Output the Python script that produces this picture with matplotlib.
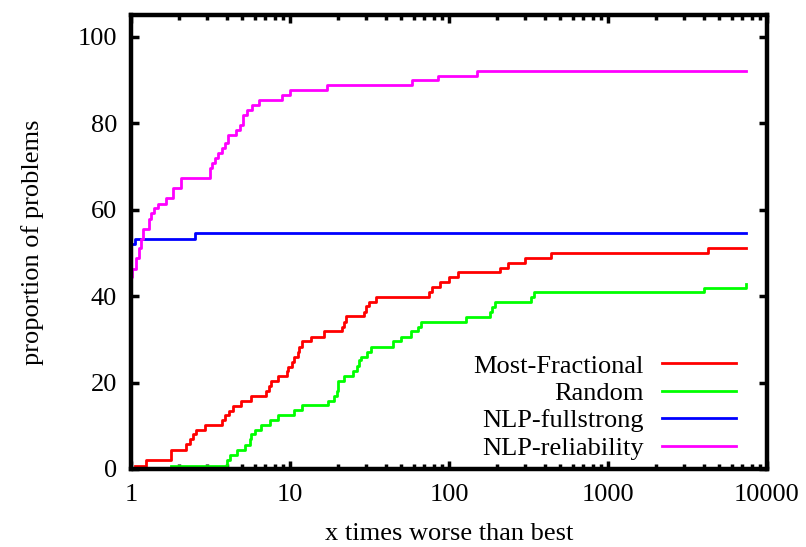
import matplotlib.pyplot as plt
from matplotlib.ticker import LogLocator, FixedLocator, NullFormatter

plt.rcParams['font.family'] = ['Liberation Serif', 'DejaVu Serif']

# Data (x = ratio to best where the profile steps up, y = % of problems)
x_end = 7400

mf_x = [1.064, 1.248, 1.776, 2.226, 2.337, 2.452, 2.572, 2.904, 3.729, 3.878,
        4.109, 4.372, 4.930, 5.697, 7.077, 7.328, 7.608, 8.383, 9.590, 9.786,
        10.26, 10.67, 11.19, 11.47, 11.86, 13.57, 16.47, 21.25, 21.78, 22.51,
        29.38, 30.06, 31.58, 34.74, 75.2, 78.1, 88.2, 100.4, 113.2, 210,
        233.4, 299.9, 441, 4254]
mf_y = [0.7, 2.0, 4.3, 5.7, 6.9, 8.0, 9.0, 10.1, 11.3, 12.5,
        13.5, 14.6, 15.8, 16.9, 18.1, 19.3, 20.4, 21.6, 22.7, 23.7,
        24.8, 26.0, 27.1, 28.3, 29.5, 30.6, 31.8, 32.9, 34.1, 35.3,
        36.4, 37.6, 38.7, 39.7, 40.9, 42.1, 43.2, 44.4, 45.5, 46.6,
        47.7, 48.9, 50.0, 51.1]

rnd_x = [1.776, 4.026, 4.169, 4.654, 5.178, 5.568, 5.697, 5.984, 6.584, 7.434,
         8.468, 10.67, 11.86, 17.28, 19.03, 19.76, 19.96, 22.0, 24.8, 26.4,
         27.05, 27.97, 30.5, 32.3, 44.2, 49.9, 57.6, 63.5, 66.6, 127.7,
         181.7, 186.0, 195.4, 326.9, 343.4, 4014, 7350]
rnd_y = [0.7, 2.0, 3.2, 4.3, 5.5, 6.9, 8.0, 9.0, 10.1, 11.3,
         12.5, 13.6, 14.8, 15.8, 16.9, 18.1, 20.4, 21.6, 22.7, 23.9,
         25.1, 26.0, 27.1, 28.3, 29.5, 30.6, 31.8, 32.9, 34.1, 35.1,
         36.3, 37.4, 38.6, 39.7, 40.9, 41.9, 42.8]

full_x = [1.0, 1.055, 2.51]
full_y = [52.1, 53.3, 54.5]

rel_x = [1.0, 1.015, 1.08, 1.118, 1.15, 1.19, 1.29, 1.34, 1.39, 1.48,
         1.67, 1.84, 2.07, 3.12, 3.23, 3.38, 3.52, 3.73, 3.91, 4.07,
         4.59, 4.82, 5.05, 5.38, 5.75, 6.43, 8.88, 10.0, 17.1, 58.2,
         85.7, 151]
rel_y = [44.4, 46.3, 48.7, 51.0, 53.3, 55.6, 57.9, 59.1, 60.3, 61.4,
         62.6, 64.9, 67.2, 69.5, 70.7, 71.9, 73.0, 74.2, 75.3, 77.3,
         78.4, 79.6, 81.9, 83.1, 84.2, 85.4, 86.5, 87.7, 88.9, 89.9,
         91.0, 92.1]

series = [
    ('Most-Fractional', mf_x, mf_y, '#ff0000'),
    ('Random', rnd_x, rnd_y, '#00ff00'),
    ('NLP-fullstrong', full_x, full_y, '#0000ff'),
    ('NLP-reliability', rel_x, rel_y, '#ff00ff'),
]

fig = plt.figure(figsize=(8.06, 5.47), dpi=100)
ax = fig.add_axes([0.1625, 0.1426, 0.7891, 0.8300])

for name, xs, ys, col in series:
    xs = list(xs)
    ys = list(ys)
    if xs[-1] < x_end:
        xs.append(x_end)
        ys.append(ys[-1])
    ax.step(xs, ys, where='post', color=col, lw=2.0, label=name)

ax.set_xscale('log')
ax.set_xlim(1, 10000)
ax.set_ylim(0, 105)
ax.xaxis.set_major_locator(FixedLocator([1, 10, 100, 1000, 10000]))
ax.set_xticklabels(['1', '10', '100', '1000', '10000'])
ax.xaxis.set_minor_locator(LogLocator(base=10, subs=range(2, 10)))
ax.xaxis.set_minor_formatter(NullFormatter())
ax.set_yticks([0, 20, 40, 60, 80, 100])

for s in ax.spines.values():
    s.set_linewidth(3.2)
ax.tick_params(which='major', direction='in', length=6, width=2.5,
               top=True, right=True, labelsize=19)
ax.tick_params(which='minor', direction='in', length=3.5, width=2.5,
               top=True, right=True)
ax.tick_params(axis='x', which='major', pad=11)
ax.tick_params(axis='y', which='major', pad=10)

ax.set_xlabel('x times worse than best', fontsize=19, labelpad=12)
ax.set_ylabel('proportion of problems', fontsize=19, labelpad=24)

ax.legend(loc='lower right', bbox_to_anchor=(0.951, 0.02), markerfirst=False,
          frameon=False, fontsize=19, handlelength=2.8, handletextpad=0.7,
          labelspacing=0.15, borderpad=0, borderaxespad=0)

plt.savefig('out.png', dpi=100)
plt.close()
